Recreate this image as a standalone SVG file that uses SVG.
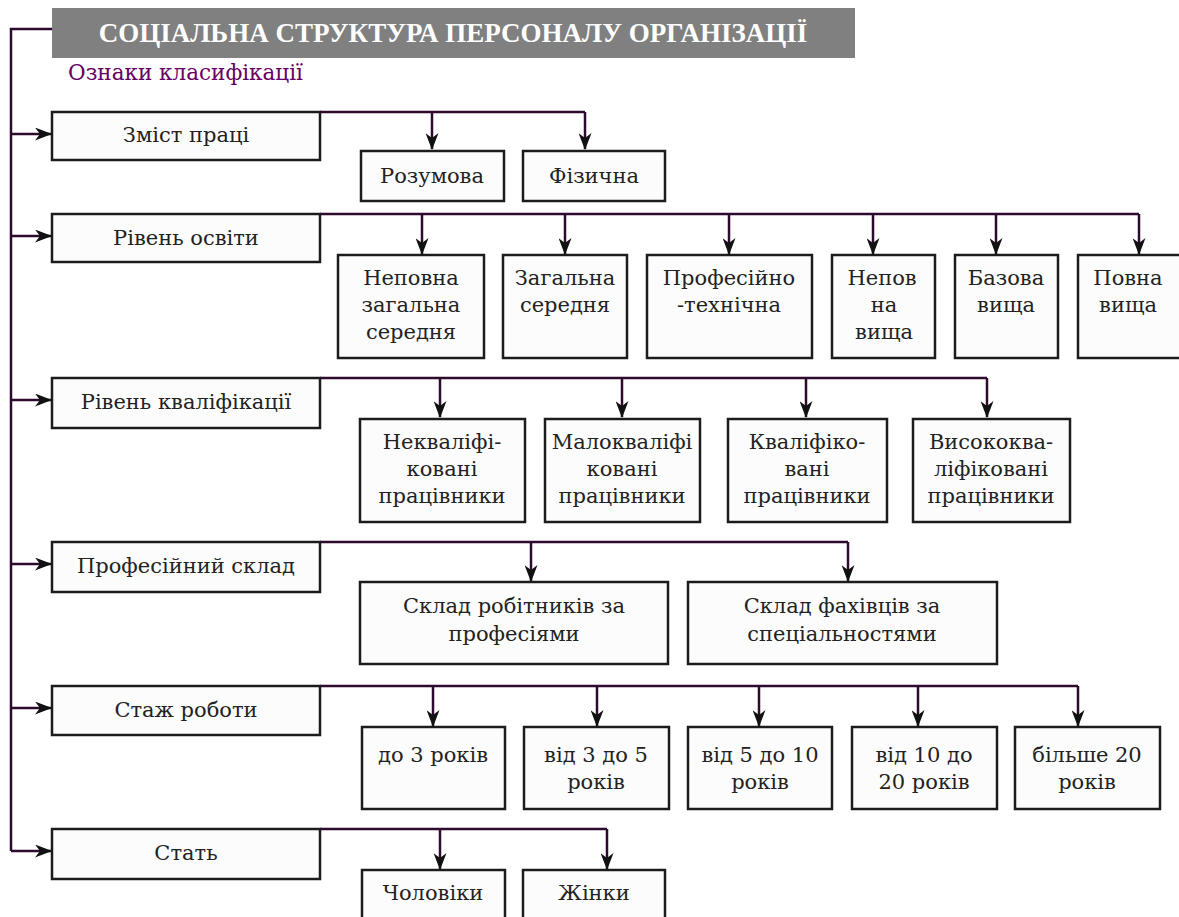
<svg xmlns="http://www.w3.org/2000/svg" width="1179" height="917" viewBox="0 0 1179 917">
<style>
.box{fill:#fcfcfc;stroke:#1c1c1c;stroke-width:2.5}
.t{font-family:"DejaVu Serif","Liberation Serif",serif;font-size:21px;fill:#222;text-anchor:middle}
.c{stroke:#2e0a2e;stroke-width:2.5;fill:none}
.title{font-family:"Liberation Serif","DejaVu Serif",serif;font-size:27px;font-weight:bold;fill:#fff;text-anchor:middle}
.sub{font-family:"DejaVu Serif","Liberation Serif",serif;font-size:21.5px;fill:#660066}
</style>
<defs>
<marker id="ah" markerWidth="17" markerHeight="13" refX="16" refY="6.5" orient="auto" markerUnits="userSpaceOnUse">
<path d="M0,0 L17,6.5 L0,13 L5,6.5 z" fill="#111"/>
</marker>
</defs>
<rect width="1179" height="917" fill="#fff"/>

<g id="connectors">
<path class="c" d="M52,29 H11 V851"/>
<path class="c" d="M11,134 H51" marker-end="url(#ah)"/>
<path class="c" d="M11,236 H51" marker-end="url(#ah)"/>
<path class="c" d="M11,400 H51" marker-end="url(#ah)"/>
<path class="c" d="M11,564 H51" marker-end="url(#ah)"/>
<path class="c" d="M11,708 H51" marker-end="url(#ah)"/>
<path class="c" d="M11,851 H51" marker-end="url(#ah)"/>
<path class="c" d="M320,112 H585"/>
<path class="c" d="M432,112 V149" marker-end="url(#ah)"/>
<path class="c" d="M585,112 V149" marker-end="url(#ah)"/>
<path class="c" d="M320,214 H1139"/>
<path class="c" d="M422,214 V254" marker-end="url(#ah)"/>
<path class="c" d="M565,214 V254" marker-end="url(#ah)"/>
<path class="c" d="M729,214 V254" marker-end="url(#ah)"/>
<path class="c" d="M873,214 V254" marker-end="url(#ah)"/>
<path class="c" d="M996,214 V254" marker-end="url(#ah)"/>
<path class="c" d="M1139,214 V254" marker-end="url(#ah)"/>
<path class="c" d="M320,378 H987"/>
<path class="c" d="M440,378 V417" marker-end="url(#ah)"/>
<path class="c" d="M622,378 V417" marker-end="url(#ah)"/>
<path class="c" d="M806,378 V417" marker-end="url(#ah)"/>
<path class="c" d="M987,378 V417" marker-end="url(#ah)"/>
<path class="c" d="M320,542 H848"/>
<path class="c" d="M531,542 V581" marker-end="url(#ah)"/>
<path class="c" d="M848,542 V581" marker-end="url(#ah)"/>
<path class="c" d="M320,686 H1078"/>
<path class="c" d="M433,686 V726" marker-end="url(#ah)"/>
<path class="c" d="M597,686 V726" marker-end="url(#ah)"/>
<path class="c" d="M759,686 V726" marker-end="url(#ah)"/>
<path class="c" d="M918,686 V726" marker-end="url(#ah)"/>
<path class="c" d="M1078,686 V726" marker-end="url(#ah)"/>
<path class="c" d="M320,829 H607"/>
<path class="c" d="M440,829 V869" marker-end="url(#ah)"/>
<path class="c" d="M607,829 V869" marker-end="url(#ah)"/>
</g>

<g id="title">
<rect x="52" y="8" width="803" height="50" fill="#808080"/>
<text class="title" x="453" y="42">СОЦІАЛЬНА СТРУКТУРА ПЕРСОНАЛУ ОРГАНІЗАЦІЇ</text>
</g>
<g id="subtitle">
<text class="sub" x="68" y="80">Ознаки класифікації</text>
</g>

<g id="n-zmist"><rect class="box" x="52" y="112" width="268" height="48"/><text class="t" x="186" y="142">Зміст праці</text></g>
<g id="n-rozumova"><rect class="box" x="361" y="151" width="143" height="50"/><text class="t" x="432" y="183">Розумова</text></g>
<g id="n-fizychna"><rect class="box" x="523" y="151" width="142" height="50"/><text class="t" x="594" y="183">Фізична</text></g>

<g id="n-osvita"><rect class="box" x="52" y="214" width="268" height="48"/><text class="t" x="186" y="245">Рівень освіти</text></g>
<g id="n-nzs"><rect class="box" x="338" y="255" width="146" height="103"/><text class="t" x="411" y="285">Неповна</text><text class="t" x="411" y="312">загальна</text><text class="t" x="411" y="339">середня</text></g>
<g id="n-zs"><rect class="box" x="503" y="255" width="124" height="103"/><text class="t" x="565" y="285">Загальна</text><text class="t" x="565" y="312">середня</text></g>
<g id="n-pt"><rect class="box" x="647" y="255" width="165" height="103"/><text class="t" x="729" y="285">Професійно</text><text class="t" x="729" y="312">-технічна</text></g>
<g id="n-nv"><rect class="box" x="832" y="255" width="103" height="103"/><text class="t" x="882" y="285">Непов</text><text class="t" x="884" y="312">на</text><text class="t" x="884" y="339">вища</text></g>
<g id="n-bv"><rect class="box" x="955" y="255" width="103" height="103"/><text class="t" x="1006" y="285">Базова</text><text class="t" x="1006" y="312">вища</text></g>
<g id="n-pv"><rect class="box" x="1078" y="255" width="103" height="103"/><text class="t" x="1128" y="285">Повна</text><text class="t" x="1128" y="312">вища</text></g>

<g id="n-kval"><rect class="box" x="52" y="378" width="268" height="50"/><text class="t" x="186" y="409">Рівень кваліфікації</text></g>
<g id="n-nk"><rect class="box" x="360" y="419" width="165" height="103"/><text class="t" x="442" y="449">Некваліфі-</text><text class="t" x="442" y="476">ковані</text><text class="t" x="442" y="503">працівники</text></g>
<g id="n-mk"><rect class="box" x="545" y="419" width="155" height="103"/><text class="t" x="622" y="449">Малокваліфі</text><text class="t" x="622" y="476">ковані</text><text class="t" x="622" y="503">працівники</text></g>
<g id="n-k"><rect class="box" x="728" y="419" width="159" height="103"/><text class="t" x="807" y="449">Кваліфіко-</text><text class="t" x="807" y="476">вані</text><text class="t" x="807" y="503">працівники</text></g>
<g id="n-vk"><rect class="box" x="913" y="419" width="157" height="103"/><text class="t" x="991" y="449">Висококва-</text><text class="t" x="991" y="476">ліфіковані</text><text class="t" x="991" y="503">працівники</text></g>

<g id="n-prof"><rect class="box" x="52" y="542" width="268" height="50"/><text class="t" x="186" y="573">Професійний склад</text></g>
<g id="n-srob"><rect class="box" x="360" y="582" width="308" height="82"/><text class="t" x="514" y="613">Склад робітників за</text><text class="t" x="514" y="641">професіями</text></g>
<g id="n-sfah"><rect class="box" x="688" y="582" width="309" height="82"/><text class="t" x="842" y="613">Склад фахівців за</text><text class="t" x="842" y="641">спеціальностями</text></g>

<g id="n-stazh"><rect class="box" x="52" y="686" width="268" height="49"/><text class="t" x="186" y="717">Стаж роботи</text></g>
<g id="n-s1"><rect class="box" x="362" y="727" width="143" height="82"/><text class="t" x="433" y="762">до 3 років</text></g>
<g id="n-s2"><rect class="box" x="524" y="727" width="145" height="82"/><text class="t" x="596" y="762">від 3 до 5</text><text class="t" x="596" y="789">років</text></g>
<g id="n-s3"><rect class="box" x="688" y="727" width="144" height="82"/><text class="t" x="760" y="762">від 5 до 10</text><text class="t" x="760" y="789">років</text></g>
<g id="n-s4"><rect class="box" x="852" y="727" width="145" height="82"/><text class="t" x="924" y="762">від 10 до</text><text class="t" x="924" y="789">20 років</text></g>
<g id="n-s5"><rect class="box" x="1015" y="727" width="145" height="82"/><text class="t" x="1087" y="762">більше 20</text><text class="t" x="1087" y="789">років</text></g>

<g id="n-stat"><rect class="box" x="52" y="829" width="268" height="50"/><text class="t" x="186" y="860">Стать</text></g>
<g id="n-chol"><rect class="box" x="362" y="870" width="143" height="60"/><text class="t" x="433" y="900">Чоловіки</text></g>
<g id="n-zhin"><rect class="box" x="523" y="870" width="142" height="60"/><text class="t" x="594" y="900">Жінки</text></g>
</svg>
